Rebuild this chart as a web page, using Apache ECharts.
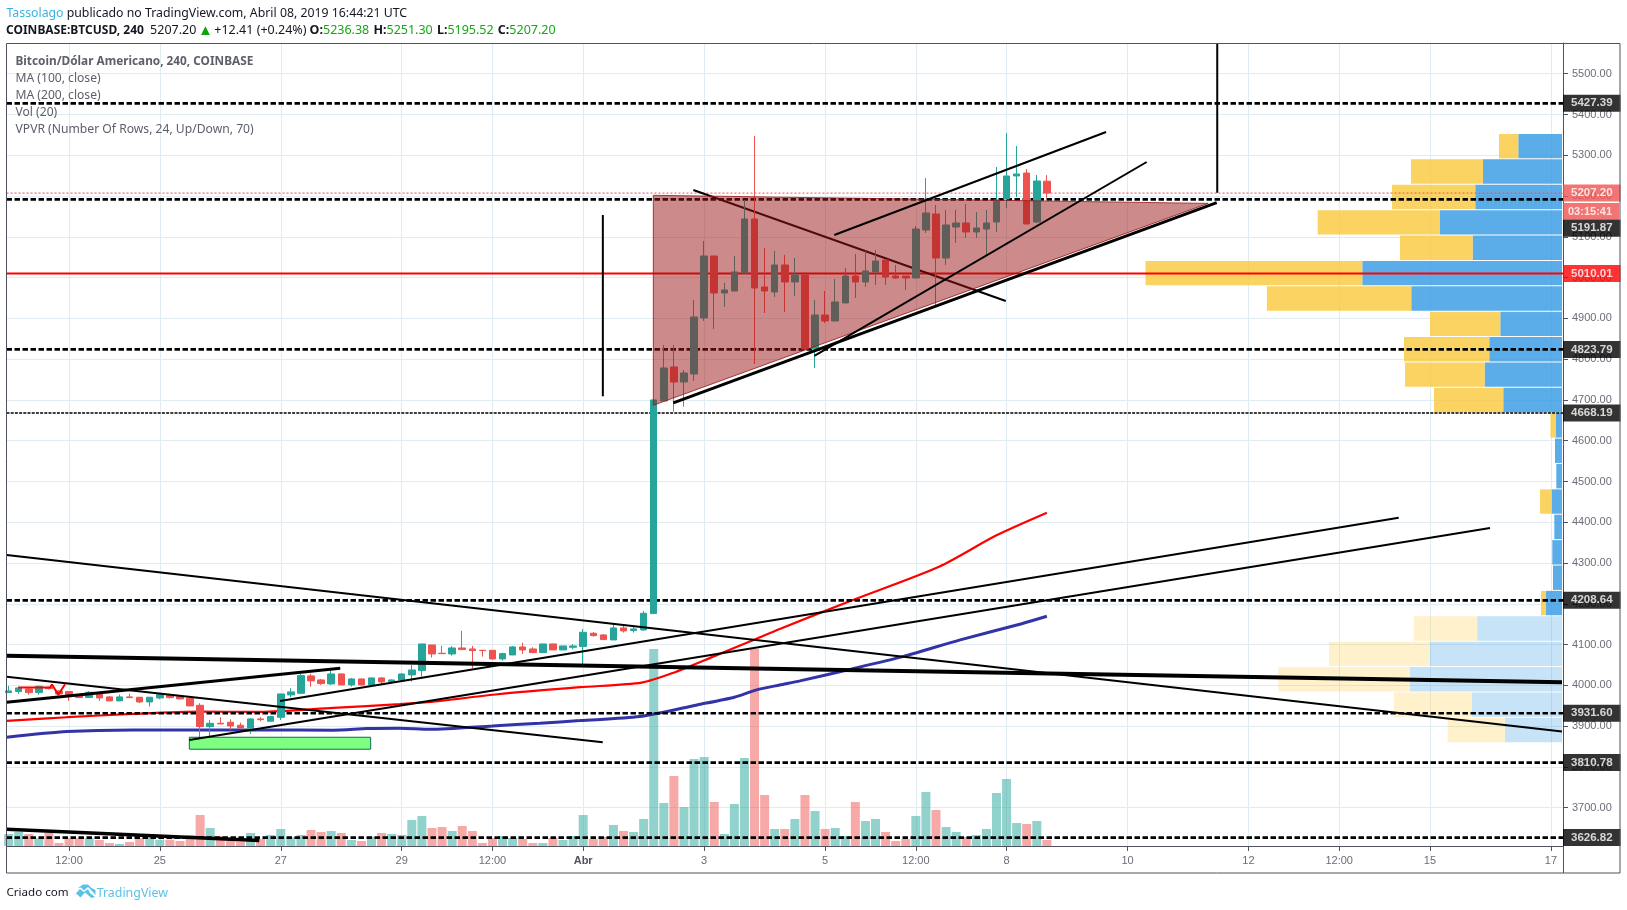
<!DOCTYPE html>
<html><head><meta charset="utf-8">
<style>html,body{margin:0;padding:0;background:#fff}#c{width:1627px;height:910px}</style>
<script src="https://cdn.jsdelivr.net/npm/echarts@6/dist/echarts.min.js"></script></head>
<body><div id="c"></div><script>
// candles: open, close, low, high
const candles = [
[3982.3,3986.4,3982.3,3998.7],[3984.8,3993.8,3979,3997],[3991.3,3982.3,3977.4,3992.9],[3982.3,3997.8,3977.4,3999.5],
[3994.6,3992,3990,3996],[3986,3979,3976,3988],[3984.8,3974.1,3961.9,3984.8],[3976.6,3970,3969,3977.5],
[3970,3983.1,3969.2,3985.6],[3978.2,3969.2,3961.9,3978.2],[3971.7,3961.9,3961.9,3974.1],[3961.9,3971.7,3961.9,3977.4],
[3971.7,3970,3969.2,3979],[3970.9,3959.4,3957,3970.9],[3959.4,3970.9,3948,3970.9],[3969.2,3977.4,3966,3980.7],
[3975.8,3970,3967.6,3979],[3972.5,3966.8,3966,3973.3],[3968.4,3949.6,3949.6,3969],[3951.2,3899,3859.7,3956.2],
[3899,3907,3874.4,3915.3],[3907.1,3905.5,3905.5,3921.8],[3909.6,3900.6,3890.8,3916.9],[3902.2,3895.7,3895.7,3908.7],
[3895.7,3917.7,3881,3919.4],[3917.7,3916.1,3912,3921.8],[3912,3923.5,3911.2,3925.1],[3921.8,3979,3915.3,3979],
[3976.6,3984,3970.9,3993],[3980.7,4024,3979,4028.1],[4023.2,4011,3997,4028.1],[4013.4,4004.4,4001.1,4015.8],
[4003.6,4028.1,4001.1,4036.3],[4028.1,4001.1,4001.1,4028.1],[4001.1,4015.8,3997,4018.3],[4015.8,4001.1,4000,4016.6],
[4001.1,4018.3,3999.5,4019.9],[4018.3,4008.5,4003.6,4019.9],[4009.2,4013.3,4008,4014.5],[4013.3,4028,4013,4030],
[4025.6,4037.8,4009.2,4050.1],[4036.2,4101.6,4021.5,4101.6],[4099.1,4077.1,4068.1,4099.1],[4078.7,4077.9,4077.9,4096.7],
[4077.1,4091.8,4073,4096.7],[4091.8,4087.7,4087.7,4133.5],[4089.3,4085.2,4041.9,4096.7],[4086.1,4085.2,4070.5,4086.1],
[4086.1,4064.8,4063.2,4086.1],[4064.8,4077.9,4060.7,4080.3],[4074.6,4094.3,4074.6,4096.7],[4094.3,4086.9,4077.1,4104.9],
[4089.3,4080.3,4079.5,4093.4],[4080.3,4101.6,4080.3,4102],[4101.6,4086.9,4086.9,4101.6],[4086.9,4096.7,4086.9,4097],
[4093.4,4096.7,4088.5,4100.8],[4095.1,4130.2,4052.6,4138.4],[4127.8,4122,4119.6,4131],[4123.7,4112.2,4111.4,4125.3],
[4111.4,4140.8,4111.4,4150.6],[4140.8,4133.5,4129.4,4148.2],[4134.3,4138.4,4129.4,4144.1],[4135.9,4176.8,4134.3,4182.5],
[4176,4700,4176,4700],[4697.4,4778.4,4697.4,4834.8],[4780.8,4744,4671.3,4834.8],[4744,4766.1,4683.5,4773.4],
[4763.6,4903.4,4746.5,4945.1],[4901,5053,4893.6,5089.8],[5053,4962.3,4874,5053],[4962.3,4969.6,4928,4986.8],
[4967.2,5013.8,4967.2,5053],[5011.3,5143.7,5011.3,5190.3],[5143.7,4974.5,4788.1,5347.3],[4977,4967.2,4913.2,5072.6],
[4964.7,5030.9,4952.4,5065.3],[5030.9,4989.2,4915.7,5055.5],[4989.2,5006.4,4954.9,5048.1],[5006.4,4825,4822.5,5006.4],
[4825,4908.3,4778.4,4945.1],[4908.3,4893.6,4888.7,4967.2],[4893.6,4940.2,4893.6,4996.6],[4937.8,5003.9,4937.8,5023.6],
[5003.9,4989.2,4950,5057.9],[4989.2,5016.2,4977,5065.3],[5013.8,5040.7,4981.9,5067.7],[5043.2,5001.5,4981.9,5043.2],
[5003.9,4999,4996.6,5030.9],[5003.9,4999,4969.6,5003.9],[4999,5119.2,4999,5126.6],[5116.8,5158.4,5109.4,5244.3],
[5156,5048.1,4932.8,5178.1],[5048.1,5129,5030.9,5165.8],[5124.1,5133.9,5084.9,5165.8],[5133.9,5111.9,5097.1,5180.5],
[5111.9,5121.7,5097.1,5160.9],[5119.2,5133.9,5055.5,5165.8],[5136.4,5190.3,5111.9,5271.2],[5192.8,5249.2,5170.7,5354.6],
[5249.2,5254.1,5197.7,5322.7],[5256.5,5131.5,5131.5,5266.3],[5136.4,5236.9,5133.9,5251.6],[5236.38,5207.2,5195.52,5251.3]
];
const volumes = [12,14.3,12,7.7,13.3,3,7.7,7.7,7.7,6,3,2,4,7.7,8.7,6.3,6.3,5,10.7,31,18,10,6.7,4.3,13,7,11,17,8.7,11,16,14,15,13,6,5,9.3,13,12,11,26,30,18,19,15,20,15,3,8,10,8,7,3,3,8,6,10,31,7,9,21,15,14,27,197,43,70,39,87,89,44,12,42,88,197,51,17,17,27,51,35,17,18,10,44,25,27,14,5,7,30,54,36,19,14,9,11,17,53,67,23,22,25,6];
const ma100 = [[-0.2,3912.8],[5.8,3921.9],[12.3,3930],[19,3935.6],[25,3935],[32.2,3944.7],[38.8,3953.8],[42.8,3961.9],[48.5,3978.3],[56.7,3995.5],[62.8,4006.7],[65.9,4030.5],[69.9,4070.5],[73.9,4111.5],[76.5,4138.4],[83.5,4207],[92.3,4291],[98,4368],[103,4423.5]];
const ma200 = [[-0.2,3872.8],[5.8,3886.6],[12.3,3890.8],[25.6,3890.8],[32.2,3890],[35.6,3894],[38.8,3895],[41.8,3892.4],[48,3900.6],[52.7,3907.2],[56.7,3913.6],[62.6,3923.4],[68.3,3952],[72,3971],[74.2,3989],[76.5,4001],[78.5,4011],[83.2,4037.8],[88.7,4070.5],[94.4,4111.5],[100.5,4151.3],[103,4169.5]];
const tickBars = [6,15,27,39,48,57,69,81,90,99,111,123,132,141,153];
const tickLabels = ['12:00','25','27','29','12:00','Abr','3','5','12:00','8','10','12','12:00','15','17'];
const priceTicks = [3700,3800,3900,4000,4100,4200,4300,4400,4500,4600,4700,4800,4900,5000,5100,5200,5300,5400,5500];
const dashedLevels = [5427.39,5191.87,4823.79,4208.64,3931.60,3810.78,3626.82];
const thinDashedLevel = 4668.19;
const pocLevel = 5010.01;
const lastPrice = 5207.20;
const tagTexts = ['5427.39','5207.20','03:15:41','5191.87','5010.01','4823.79','4668.19','4208.64','3931.60','3810.78','3626.82'];
const tagPrices = [5427.39,5207.2,5162,5121,5010.01,4823.79,4668.19,4208.64,3931.6,3810.78,3626.82];
const tagColors = ['#000','#ef5350','#ef5350','#000','#f00','#000','#000','#000','#000','#000','#000'];
const vpTop = 5352.2, vpStep = 62.25;
const vpUp   = [43.7,79,86.7,122.3,89.3,199.7,150.7,61.7,72.7,77.3,58.7,6.3,7,5.7,10,7.7,9.7,9,16,84.7,132,152,90,57];
const vpDown = [19.3,72,83.3,122,72.7,216.8,144.4,70.3,85.3,79.7,69.3,5.3,0,0,12,0,0,0,5,63.3,101,131.7,78,57.3];
const vpFadedFrom = 19;
const triangle = [[63.96,5201.8],[63.96,4686.9],[119.0,5182]];
const greenBox = [[17.93,3872.8],[35.92,3843.4]];
const redArrow = [[0.96,3994.5],[4.1,3994.5],[4.3,4002.3],[4.93,3977.3],[5.6,4002.8]];
const lowerLines = [
 {w:2,d:[[67.93,5214.8],[98.92,4942.7]]}
];
const upperLines = [
 {w:4,d:[[-0.19,4072.9],[154.1,4007.7]]},
 {w:3,d:[[-0.19,3958.7],[32.9,4042]]},
 {w:2,d:[[-0.19,4021.4],[58.94,3860.6]]},
 {w:2,d:[[-0.19,4319.8],[154.1,3886.6]]},
 {w:2,d:[[26.92,3961.9],[137.9,4411.3]]},
 {w:2,d:[[17.93,3866.2],[146.96,4386]]},
 {w:3.5,d:[[-0.19,3647.2],[24.87,3619.3]]},
 {w:3,d:[[65.94,4692.6],[119.85,5183.7]]},
 {w:2,d:[[81.91,5104.5],[108.87,5357]]},
 {w:2,d:[[79.93,4807.8],[112.9,5283.5]]},
 {w:2,d:[[58.95,5153.5],[58.95,4709]]},
 {w:2,d:[[119.9,5575.3],[119.9,5208]]}
];
const header1 = '{a|Tassolago} {t|publicado no TradingView.com, Abril 08, 2019 16:44:21 UTC}';
const header2 = '{b|COINBASE:BTCUSD, 240}  {t|5207.20}{h| }{u|▲}{h| }{t|+12.41 (+0.24%)} {c|O:}{g|5236.38}{s| }{c|H:}{g|5251.30}{s| }{c|L:}{g|5195.52}{s| }{c|C:}{g|5207.20}';
const legendLines = ['Bitcoin/Dólar Americano, 240, COINBASE','MA (100, close)','MA (200, close)','Vol (20)','VPVR (Number Of Rows, 24, Up/Down, 70)'];

const FRAME='#50535e', GRID='#e1ecf2', UP='#26a69a', DOWN='#ef5350';
const HFONT='"Noto Sans"', AFONT='"Liberation Sans"';
const xMin=-0.208, xMax=154.2, yMin=3606.1, yMax=5575.3;
const line=(data,o)=>({type:'line',data,symbol:'none',silent:true,animation:false,lineStyle:{color:o.c||'#000',width:o.w,type:o.t||'solid'},z:o.z,clip:true,smooth:o.s||false});
const full=v=>[[xMin,v],[xMax,v]];

const series=[];
series.push({type:'bar',xAxisIndex:0,yAxisIndex:1,barWidth:9,z:1,animation:false,
  data:volumes.map((v,i)=>({value:[i,v],itemStyle:{color:candles[i][1]>=candles[i][0]?'rgba(38,166,154,.5)':'rgba(239,83,80,.5)'}}))});
series.push({type:'custom',xAxisIndex:1,yAxisIndex:0,z:1,animation:false,silent:true,clip:false,encode:{x:0,y:2},
  data:vpUp.map((u,i)=>[u,vpDown[i],vpTop-vpStep*i,vpTop-vpStep*(i+1),i]),
  renderItem(p,api){
    const u=api.value(0),d=api.value(1),t=api.value(2),b=api.value(3),faded=api.value(4)>=vpFadedFrom;
    const a=api.coord([0,t]),c=api.coord([u,b]),e=api.coord([u+d,b]);
    const H=c[1]-a[1]-1;
    return {type:'group',children:[
      {type:'rect',shape:{x:c[0],y:a[1],width:a[0]-c[0],height:H},style:{fill:faded?'rgba(50,153,227,.28)':'rgba(50,153,227,.8)'}},
      {type:'rect',shape:{x:e[0],y:a[1],width:c[0]-e[0],height:H},style:{fill:faded?'rgba(250,200,59,.26)':'rgba(250,200,59,.8)'}}
    ]};
  }});
series.push(line(ma100,{c:'#f00',w:2.2,z:2,s:0.25}));
series.push(line(ma200,{c:'#3333a8',w:3,z:2,s:0.25}));
series.push({type:'candlestick',z:3,animation:false,silent:true,barWidth:7,
  data:candles.map((c,i)=>[i,c[0],c[1],c[2],c[3]]),
  itemStyle:{color:UP,color0:DOWN,borderColor:UP,borderColor0:DOWN,borderColorDoji:DOWN,borderWidth:1}});
series.push(line(full(lastPrice),{c:'#ef5350',w:1,t:[2,2],z:3}));
series.push(line(full(pocLevel),{c:'#f00',w:2,z:3}));
dashedLevels.forEach(v=>series.push(line(full(v),{w:2.7,t:[5.5,2.5],z:3})));
series.push(line(full(thinDashedLevel),{w:1.5,t:[3,1.2],z:3}));
lowerLines.forEach(l=>series.push(line(l.d,{w:l.w,z:3})));
series.push(line(redArrow,{c:'#f00',w:2,z:4}));
series.push({type:'custom',z:5,animation:false,silent:true,encode:{x:0,y:1},data:triangle,
  renderItem(p,api){
    if(p.dataIndex!==0) return null;
    return {type:'polygon',shape:{points:triangle.map(q=>api.coord(q))},
      style:{fill:'rgba(153,21,21,.5)',stroke:'rgba(153,21,21,.8)',lineWidth:1}};
  }});
series.push({type:'custom',z:5,animation:false,silent:true,encode:{x:0,y:1},data:greenBox,
  renderItem(p,api){
    if(p.dataIndex!==0) return null;
    const a=api.coord(greenBox[0]),b=api.coord(greenBox[1]);
    return {type:'rect',shape:{x:a[0],y:a[1],width:b[0]-a[0],height:b[1]-a[1]},
      style:{fill:'#7fff7f',stroke:'#0e6b5b',lineWidth:1}};
  }});
upperLines.forEach(l=>series.push(line(l.d,{w:l.w,z:6})));
series.push({type:'scatter',z:8,symbolSize:0,silent:true,animation:false,clip:false,
  data:tagTexts.map((t,i)=>({value:[xMax,tagPrices[i]],
    label:{show:true,position:'right',distance:0,formatter:t,color:'#fff',fontFamily:AFONT,fontWeight:'bold',
      fontSize:t==='03:15:41'?11:11.5,backgroundColor:tagColors[i],lineHeight:12,padding:t==='03:15:41'?[3,7,2,5]:[3,8,2,8]}}))});

const gText=(x,y,text,extra)=>({type:'text',x,y,z:20,style:Object.assign({text,font:'12px '+HFONT,fill:'#131722',textVerticalAlign:'middle'},extra||{})});
const graphic=[
 {type:'rect',z:19,shape:{x:6.5,y:43.5,width:1613.5,height:829.5},style:{fill:'none',stroke:FRAME,lineWidth:1}},
 {type:'line',z:19,shape:{x1:1563.5,y1:846,x2:1563.5,y2:873},style:{stroke:FRAME,lineWidth:1}},
 gText(6.5,13.5,header1,{rich:{a:{fill:'#3bb3e4',font:'12.3px '+HFONT},t:{fill:'#131722',font:'12.3px '+HFONT}}}),
 gText(6,30.7,header2,{rich:{
   b:{fill:'#131722',font:'bold 12px '+HFONT},c:{fill:'#131722',font:'bold 12.5px '+HFONT},t:{fill:'#131722',font:'12.5px '+HFONT},
   h:{font:'6px '+HFONT},s:{font:'16px '+HFONT},
   u:{fill:'#0aa50a',font:'15px '+HFONT},g:{fill:'#13a813',font:'12.5px '+HFONT}}}),
 gText(15.5,61.3,legendLines[0],{font:'bold 11.8px '+HFONT,fill:'#5d606b'}),
 gText(15.5,78.5,legendLines[1],{font:'12.1px '+HFONT,fill:'#5d606b'}),
 gText(15.5,95.5,legendLines[2],{font:'12.1px '+HFONT,fill:'#5d606b'}),
 gText(15.5,113,legendLines[3],{font:'12.1px '+HFONT,fill:'#5d606b'}),
 gText(15.5,130,legendLines[4],{font:'12.15px '+HFONT,fill:'#5d606b'}),
 gText(6.5,893,'Criado com',{font:'11.6px '+HFONT}),
 {type:'polygon',z:20,shape:{points:[[72.5,897],[80,889],[84,892],[88,889],[90,893],[95,897],[91.5,898],[85,892.5],[80.5,897.5],[76,893.5]]},style:{fill:'#5ac2e8'}},
 {type:'polygon',z:20,shape:{points:[[78,888],[83,884.5],[88,884.5],[91.5,888],[95.5,890],[95.5,895],[90,889],[88,887],[84,890.5],[81,887.5]]},style:{fill:'#5ac2e8'}},
 gText(96.7,893,'TradingView',{font:'12.4px '+HFONT,fill:'#5ac2e8'})
];

const chart=echarts.init(document.getElementById('c'),null,{renderer:'canvas'});
chart.setOption({
  animation:false,backgroundColor:'#fff',
  grid:{left:6.5,right:64,top:43,bottom:64,containLabel:false},
  xAxis:[{type:'value',min:xMin,max:xMax,
    axisLine:{show:true,onZero:false,lineStyle:{color:FRAME}},
    axisTick:{show:true,length:5,customValues:tickBars,lineStyle:{color:FRAME}},
    splitLine:{show:true,lineStyle:{color:GRID,width:1}},
    axisLabel:{show:true,customValues:tickBars,margin:9,fontSize:11,fontFamily:AFONT,color:'#6a6d78',showMinLabel:true,showMaxLabel:true,
      formatter:v=>{const t=tickLabels[tickBars.indexOf(v)]||'';return t==='Abr'?'{b|Abr}':t;},
      rich:{b:{fontWeight:'bold',fontSize:11,fontFamily:AFONT,color:'#50535e'}}}},
   {type:'value',show:false,inverse:true,min:-1,max:1555.5,splitLine:{show:false}}],
  yAxis:[{type:'value',position:'right',min:yMin,max:yMax,scale:true,
    axisLine:{show:true,onZero:false,lineStyle:{color:FRAME}},
    axisTick:{show:true,length:5,customValues:priceTicks,lineStyle:{color:FRAME}},
    splitLine:{show:true,lineStyle:{color:GRID,width:1}},
    axisLabel:{show:true,customValues:priceTicks,margin:9,fontSize:11,fontFamily:AFONT,color:'#6a6d78',padding:[2,0,0,0],formatter:v=>v.toFixed(2)}},
   {type:'value',show:false,min:0,max:803,splitLine:{show:false}}],
  series,graphic
});
</script></body></html>
